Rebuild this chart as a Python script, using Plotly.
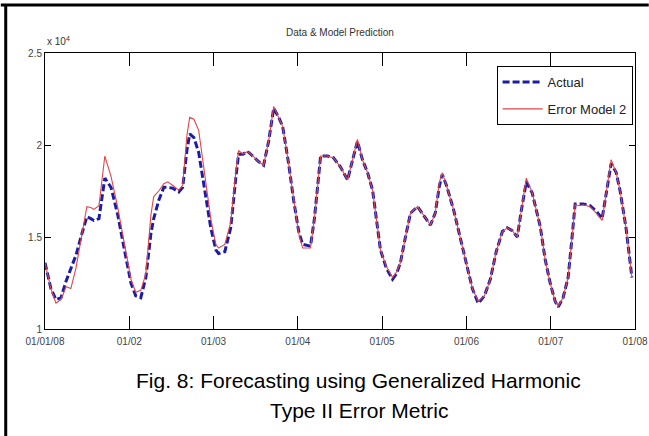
import plotly.graph_objects as go

# day index (0 = 01/01/08, ticks every 30 days)
days = [0, 2.1, 3.9, 5.7, 7.5, 9.2, 11.0, 12.8, 14.9, 16.3, 17.4, 19.2, 21.3, 23.5, 25.9, 28.4,
        30.6, 32.3, 34.1, 35.9, 37.7, 38.7, 40.5, 42.3, 43.7, 45.5, 47.6, 49.0, 50.5, 51.5, 53.0,
        54.7, 56.8, 59.0, 60.8, 61.8, 64.0, 66.1, 67.9, 68.9, 70.4, 72.1, 74.3, 76.0, 77.8, 79.6,
        81.4, 83.2, 84.6, 86.7, 88.5, 90.3, 91.7, 94.5, 95.9, 97.4, 98.1, 100.6, 102.7, 105.2,
        107.7, 109.5, 111.2, 113.0, 114.8, 116.6, 118.0, 119.4, 121.5, 123.7, 125.1, 126.5, 128.3,
        130.1, 132.6, 134.7, 137.2, 138.9, 140.4, 141.4, 142.9, 145.4, 147.8, 150.3, 152.1, 154.2,
        156.4, 158.5, 160.6, 162.8, 164.5, 166.3, 168.1, 169.5, 171.3, 173.4, 176.3, 178.0, 179.8,
        181.6, 182.7, 184.4, 186.2, 187.6, 188.7, 190.1, 191.5, 194.0, 196.2, 198.3, 199.7, 201.5,
        203.3, 204.7, 206.8, 208.9]

model = [13600, 12200, 11400, 11600, 12300, 12200, 13300, 14800, 16650, 16600, 16500, 16700,
         19400, 18300, 16600, 14500, 12700, 12000, 12100, 13000, 16200, 17200, 17500, 17900,
         18000, 17800, 17550, 17800, 20500, 21500, 21400, 20800, 18500, 16000, 14600, 14400,
         14600, 15800, 18500, 19700, 19500, 19650, 19350, 19100, 18900, 20200, 22100, 21500,
         21000, 19000, 17000, 15200, 14400, 14400, 16000, 18500, 19400, 19400, 19300, 18800,
         18100, 19200, 20300, 19200, 18500, 17550, 15800, 14300, 13400, 12800, 13100, 13600,
         15000, 16300, 16650, 16200, 15650, 16300, 18000, 18500, 17800, 16500, 15000, 13400,
         12200, 11500, 11800, 12700, 14200, 15300, 15500, 15350, 15000, 16400, 18200, 17400,
         15550, 13800, 12500, 11500, 11250, 11700, 12800, 15000, 16750, 16700, 16750, 16650,
         16300, 15900, 17300, 19200, 18500, 17500, 15500, 12800]

actual = [13600, 12200, 11600, 11700, 12600, 13300, 14000, 15000, 16100, 16000, 15900, 16000,
          18200, 17700, 16200, 14200, 12500, 11800, 11700, 12800, 15200, 16000, 17000, 17700,
          17700, 17650, 17450, 17700, 19700, 20600, 20400, 19600, 17600, 15500, 14300, 14100,
          14200, 15500, 18200, 19500, 19500, 19650, 19350, 19100, 18900, 20200, 22000, 21500,
          21000, 19000, 17000, 15300, 14600, 14500, 16000, 18500, 19400, 19400, 19300, 18800,
          18100, 19200, 20200, 19200, 18500, 17550, 15800, 14300, 13300, 12700, 13000, 13600,
          15000, 16300, 16650, 16200, 15650, 16300, 17800, 18400, 17800, 16500, 15000, 13400,
          12200, 11400, 11800, 12700, 14200, 15300, 15500, 15350, 15000, 16400, 18000, 17400,
          15550, 13800, 12500, 11500, 11200, 11700, 12800, 15000, 16800, 16800, 16800, 16700,
          16400, 16000, 17300, 19000, 18500, 17500, 15500, 12800]

xtick_vals = [0, 30, 60, 90, 120, 150, 180, 210]
xtick_text = ["01/01/08", "01/02", "01/03", "01/04", "01/05", "01/06", "01/07", "01/08"]
ytick_vals = [10000, 15000, 20000, 25000]
ytick_text = ["1", "1.5", "2", "2.5"]

# layout geometry (css px)
W, H = 660, 436
L, R, T, B = 45, 14, 53, 107
PW, PH = W - L - R, H - T - B


def px(x):
    return (x - L) / PW


def py(y):
    return 1 - (y - T) / PH


narrow = "Liberation Sans Narrow, Arial Narrow, Liberation Sans, Arial, sans-serif"
tickfont = dict(family=narrow, size=10, color="#444")

fig = go.Figure()
fig.add_trace(go.Scatter(x=days, y=actual, mode="lines", name="Actual", legendgroup="a",
                         line=dict(color="#1c1ca6", width=3, dash="7px,3px")))
fig.add_trace(go.Scatter(x=days, y=model, mode="lines", name="Error Model 2", legendgroup="b",
                         line=dict(color="#e0454a", width=1.1)))

fig.update_layout(
    width=W, height=H, autosize=False,
    margin=dict(l=L, r=R, t=T, b=B),
    paper_bgcolor="white", plot_bgcolor="white",
    showlegend=True,
    legend=dict(x=px(505), y=py(66), xanchor="left", yanchor="top",
                bordercolor="black", borderwidth=1, bgcolor="white",
                font=dict(family=narrow, size=13, color="#222"),
                tracegroupgap=7, itemwidth=40),
    xaxis=dict(range=[0, 210], tickvals=xtick_vals, ticktext=xtick_text,
               showgrid=False, zeroline=False, showline=True, linecolor="black", linewidth=1,
               mirror="ticks", ticks="inside", ticklen=13, tickcolor="black",
               ticklabelstandoff=3, tickfont=tickfont),
    yaxis=dict(range=[10000, 25000], tickvals=ytick_vals, ticktext=ytick_text,
               showgrid=False, zeroline=False, showline=True, linecolor="black", linewidth=1,
               mirror="ticks", ticks="inside", ticklen=6, tickcolor="black",
               tickfont=tickfont),
    shapes=[
        dict(type="line", xref="paper", yref="paper", x0=px(0), x1=px(W),
             y0=py(5), y1=py(5), line=dict(color="black", width=3)),
        dict(type="line", xref="paper", yref="paper", x0=px(5), x1=px(5),
             y0=py(5), y1=py(H), line=dict(color="black", width=3)),
    ],
    annotations=[
        dict(text="Data & Model Prediction", xref="paper", yref="paper", x=0.5, y=py(33),
             xanchor="center", yanchor="middle", showarrow=False,
             font=dict(family=narrow, size=10, color="#333")),
        dict(text="x 10<sup>4</sup>", xref="paper", yref="paper", x=0, y=py(49),
             xanchor="left", yanchor="bottom", showarrow=False,
             font=dict(family=narrow, size=10, color="#333")),
        dict(text="Fig. 8: Forecasting using Generalized Harmonic", xref="paper", yref="paper",
             x=px(364), y=py(380), xanchor="center", yanchor="middle",
             showarrow=False, font=dict(family="Liberation Sans, Arial, sans-serif", size=21, color="black")),
        dict(text="Type II Error Metric", xref="paper", yref="paper",
             x=px(365), y=py(410), xanchor="center", yanchor="middle",
             showarrow=False, font=dict(family="Liberation Sans, Arial, sans-serif", size=21, color="black")),
    ],
)

fig.write_html("out.html",
               config={"displayModeBar": False, "responsive": False},
               post_script="document.body.style.margin='0';")
